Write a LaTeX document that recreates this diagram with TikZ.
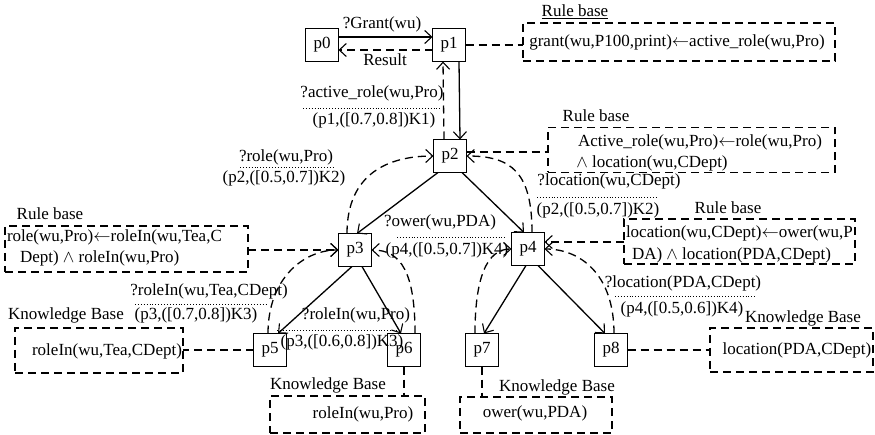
\documentclass[tikz,border=0pt]{standalone}
\usepackage{fontspec}
\setmainfont{Liberation Serif}
\usetikzlibrary{arrows.meta}
\begin{document}
\begin{tikzpicture}[x=1pt,y=-1pt,
  every node/.style={font=\fontsize{17}{20}\selectfont, inner sep=0pt, outer sep=0pt},
  proc/.style={draw, line width=1.3pt, minimum width=33pt, minimum height=33pt},
  kbox/.style={draw, line width=1.3pt, dash pattern=on 8pt off 5pt},
  tip/.style={-{Straight Barb[length=7pt,width=13pt,line width=1.1pt]}},
  sarrow/.style={line width=1.3pt, tip},
  darrow/.style={line width=1.3pt, dash pattern=on 8pt off 5pt, tip},
  dline/.style={line width=1.3pt, dash pattern=on 8pt off 5pt},
  sep/.style={dotted, line width=0.9pt}
]
\useasboundingbox (0,0) rectangle (875,435);

% process nodes
\node[proc] (p0) at (322,45) {p0};
\node[proc] (p1) at (449,45) {p1};
\node[proc] (p2) at (450,156) {p2};
\node[proc] (p3) at (355,250) {p3};
\node[proc] (p4) at (528,249) {p4};
\node[proc] (p5) at (270,350) {p5};
\node[proc] (p6) at (404,350) {p6};
\node[proc] (p7) at (482,350) {p7};
\node[proc] (p8) at (611,350) {p8};

% rule / knowledge boxes
\node[kbox, minimum width=312pt, minimum height=38pt] (rb1) at (679,42) {};
\node[kbox, minimum width=287pt, minimum height=45pt] (rb2) at (691.5,150) {};
\node[kbox, minimum width=243pt, minimum height=46pt] (rb3) at (126.5,249) {};
\node[kbox, minimum width=231pt, minimum height=45pt] (rb4) at (739.5,241.5) {};
\node[kbox, minimum width=168pt, minimum height=45pt] (kb5) at (99,350.5) {};
\node[kbox, minimum width=155pt, minimum height=37pt] (kb6) at (347.5,414.5) {};
\node[kbox, minimum width=152pt, minimum height=36pt] (kb7) at (536,415) {};
\node[kbox, minimum width=163pt, minimum height=44pt] (kb8) at (791.5,350) {};

% box titles
\node (t1) at (575,12) {\underline{Rule base}};
\node (t2) at (596,116) {Rule base};
\node (t3) at (50,214) {Rule base};
\node (t4) at (728,208) {Rule base};
\node (t5) at (66,315) {Knowledge Base};
\node (t6) at (328,385) {Knowledge Base};
\node (t7) at (557,387) {Knowledge Base};
\node (t8) at (803,318) {Knowledge Base};

% box contents
\node (c1) at (677,42) {grant(wu,P100,print)$\leftarrow$active\_role(wu,Pro)};
\node (c2a) at (700,142) {Active\_role(wu,Pro)$\leftarrow$role(wu,Pro)};
\node (c2b) at (652,163) {$\wedge$ location(wu,CDept)};
\node[anchor=west] (c3a) at (7,237) {role(wu,Pro)$\leftarrow$roleIn(wu,Tea,C};
\node[anchor=west] (c3b) at (20,258) {Dept) $\wedge$ roleIn(wu,Pro)};
\node[anchor=west] (c4a) at (626,233) {location(wu,CDept)$\leftarrow$ower(wu,P};
\node[anchor=west] (c4b) at (632,255) {DA) $\wedge$ location(PDA,CDept)};
\node (c5) at (107,351) {roleIn(wu,Tea,CDept)};
\node (c6) at (363,414) {roleIn(wu,Pro)};
\node (c7) at (535,413) {ower(wu,PDA)};
\node (c8) at (797,350) {location(PDA,CDept)};

% solid request arrows
\draw[sarrow] ([yshift=8pt]p0.east) -- ([yshift=8pt]p1.west);
\draw[sarrow] ([xshift=10pt]p1.south) -- ([xshift=10pt]p2.north);
\draw[sarrow] ([xshift=-12pt]p2.south) -- ([xshift=2pt]p3.north);
\draw[sarrow] ([xshift=12pt]p2.south) -- ([xshift=-4pt]p4.north);
\draw[sarrow] ([xshift=-3pt]p3.south) -- ([xshift=8pt]p5.north);
\draw[sarrow] ([xshift=7pt]p3.south) -- ([xshift=-3pt]p6.north);
\draw[sarrow] ([xshift=-2pt]p4.south) -- ([xshift=2pt]p7.north);
\draw[sarrow] ([xshift=10pt]p4.south) -- ([xshift=-6pt]p8.north);

% dashed return arrows
\draw[darrow] ([yshift=-5pt]p1.west) -- ([yshift=-5pt]p0.east);
\draw[darrow] ([xshift=-6pt]p2.north) -- ([xshift=-6pt]p1.south);
\draw[darrow] ([xshift=-8pt]p3.north) .. controls +(0,-60) and +(-45,0) .. (p2.west);
\draw[darrow] ([xshift=4pt]p4.north) .. controls +(0,-60) and +(45,0) .. (p2.east);
\draw[darrow] ([xshift=-2pt]p5.north) .. controls +(0,-55) and +(-35,0) .. (p3.west);
\draw[darrow] ([xshift=11pt]p6.north) .. controls +(0,-60) and +(30,0) .. (p3.east);
\draw[darrow] ([xshift=-7pt]p7.north) .. controls +(0,-55) and +(-25,0) .. (p4.west);
\draw[darrow] ([xshift=3pt]p8.north) .. controls +(0,-60) and +(35,0) .. (p4.east);

% box connectors
\draw[dline] (p1.east) -- (p1.east -| rb1.west);
\draw[dline] ([yshift=4pt]p2.east) -- ([yshift=4pt]p2.east -| rb2.west);
\draw[darrow] (p3.west -| rb3.east) -- (p3.west);
\draw[darrow] ([yshift=7pt]p4.east -| rb4.west) -- ([yshift=7pt]p4.east);
\draw[dline] (p5.west) -- (p5.west -| kb5.east);
\draw[dline] (p6.south) -- (p6.south |- kb6.north);
\draw[dline] (p7.south) -- (p7.south |- kb7.north);
\draw[dline] (p8.east) -- (p8.east -| kb8.west);

% edge labels
\node (l01) at (382,24) {?Grant(wu)};
\node (l10) at (385,60) {Result};
\node (l12a) at (372,93) {?active\_role(wu,Pro)};
\draw[sep] (303,108) -- (440,108);
\node (l12b) at (374,120) {(p1,([0.7,0.8])K1)};
\node (l23a) at (286,157) {?role(wu,Pro)};
\draw[sep] (240,167) -- (335,167);
\node (l23b) at (284,178) {(p2,([0.5,0.7])K2)};
\node (l24a) at (609,181) {?location(wu,CDept)};
\draw[sep] (537,197) -- (657,197);
\node (l24b) at (598,210) {(p2,([0.5,0.7])K2)};
\node (l47a) at (440,222) {?ower(wu,PDA)};
\draw[sep] (397,237) -- (507,237);
\node (l47b) at (447,250) {(p4,([0.5,0.7])K4)};
\node (l35a) at (209,291) {?roleIn(wu,Tea,CDept)};
\draw[sep] (135,304) -- (268,304);
\node (l35b) at (196,315) {(p3,([0.7,0.8])K3)};
\node (l36a) at (356,315) {?roleIn(wu,Pro)};
\draw[sep] (277,330) -- (398,330);
\node (l36b) at (342,342) {(p3,([0.6,0.8])K3)};
\node (l48a) at (683,283) {?location(PDA,CDept)};
\draw[sep] (615,296) -- (757,296);
\node (l48b) at (682,309) {(p4,([0.5,0.6])K4)};
\end{tikzpicture}
\end{document}
